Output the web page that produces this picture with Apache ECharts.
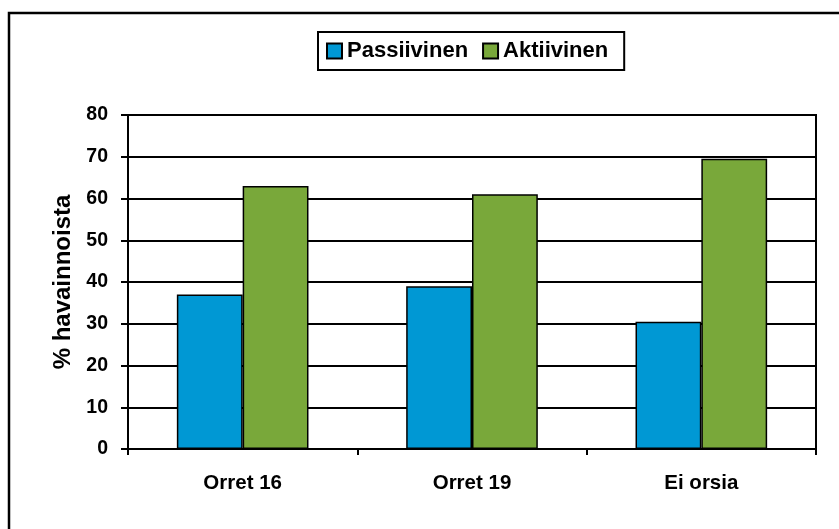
<!DOCTYPE html>
<html>
<head>
<meta charset="utf-8">
<script src="https://cdn.jsdelivr.net/npm/echarts@6/dist/echarts.min.js"></script>
<style>html,body{margin:0;padding:0;background:#fff;}#c{width:839px;height:529px;}</style>
</head>
<body>
<div id="c"></div>
<script>
const categories = ['Orret 16', 'Orret 19', 'Ei orsia'];
const passiivinen = [37, 39, 30.5];
const aktiivinen = [63, 61, 69.5];
const seriesNames = ['Passiivinen', 'Aktiivinen'];
const yAxisName = '% havainnoista';

const chart = echarts.init(document.getElementById('c'), null, {renderer: 'canvas'});
const font = 'Liberation Sans, Arial, sans-serif';
chart.setOption({
  animation: false,
  backgroundColor: '#fff',
  graphic: [{
    type: 'polyline',
    shape: {points: [[9, 529], [9, 13], [839, 13]]},
    style: {stroke: '#000', lineWidth: 2.5, fill: null}
  }],
  legend: {
    data: seriesNames,
    top: 32,
    left: 318,
    borderColor: '#000',
    borderWidth: 2,
    padding: [8, 16, 8, 8],
    itemGap: 14,
    itemWidth: 15,
    itemHeight: 15,
    icon: 'rect',
    textStyle: {fontFamily: font, fontWeight: 'bold', fontSize: 22, color: '#000', padding: [0, 0, 0, 0]}
  },
  grid: {
    left: 128, right: 23, top: 115, bottom: 80,
    show: true, borderColor: '#000', borderWidth: 2, containLabel: false
  },
  xAxis: {
    type: 'category',
    data: categories,
    axisLine: {lineStyle: {color: '#000', width: 2}},
    axisTick: {show: true, length: 6, lineStyle: {color: '#000', width: 2}},
    axisLabel: {fontFamily: font, fontWeight: 'bold', fontSize: 20.5, color: '#000', margin: 24}
  },
  yAxis: {
    type: 'value',
    min: 0, max: 80, interval: 10,
    name: yAxisName,
    nameLocation: 'middle',
    nameGap: 47,
    nameTextStyle: {fontFamily: font, fontWeight: 'bold', fontSize: 24, color: '#000'},
    axisLine: {show: true, lineStyle: {color: '#000', width: 2}},
    axisTick: {show: true, length: 7, lineStyle: {color: '#000', width: 2}},
    axisLabel: {fontFamily: font, fontWeight: 'bold', fontSize: 19.5, color: '#000', margin: 20},
    splitLine: {lineStyle: {color: '#000', width: 2}}
  },
  series: [
    {
      name: seriesNames[0], type: 'bar', data: passiivinen,
      barWidth: '28.7%', barGap: '0%',
      itemStyle: {color: '#0098D4', borderColor: '#000', borderWidth: 1.5}
    },
    {
      name: seriesNames[1], type: 'bar', data: aktiivinen,
      barWidth: '28.7%', barGap: '0%',
      itemStyle: {color: '#79A83A', borderColor: '#000', borderWidth: 1.5}
    }
  ]
});
</script>
</body>
</html>
